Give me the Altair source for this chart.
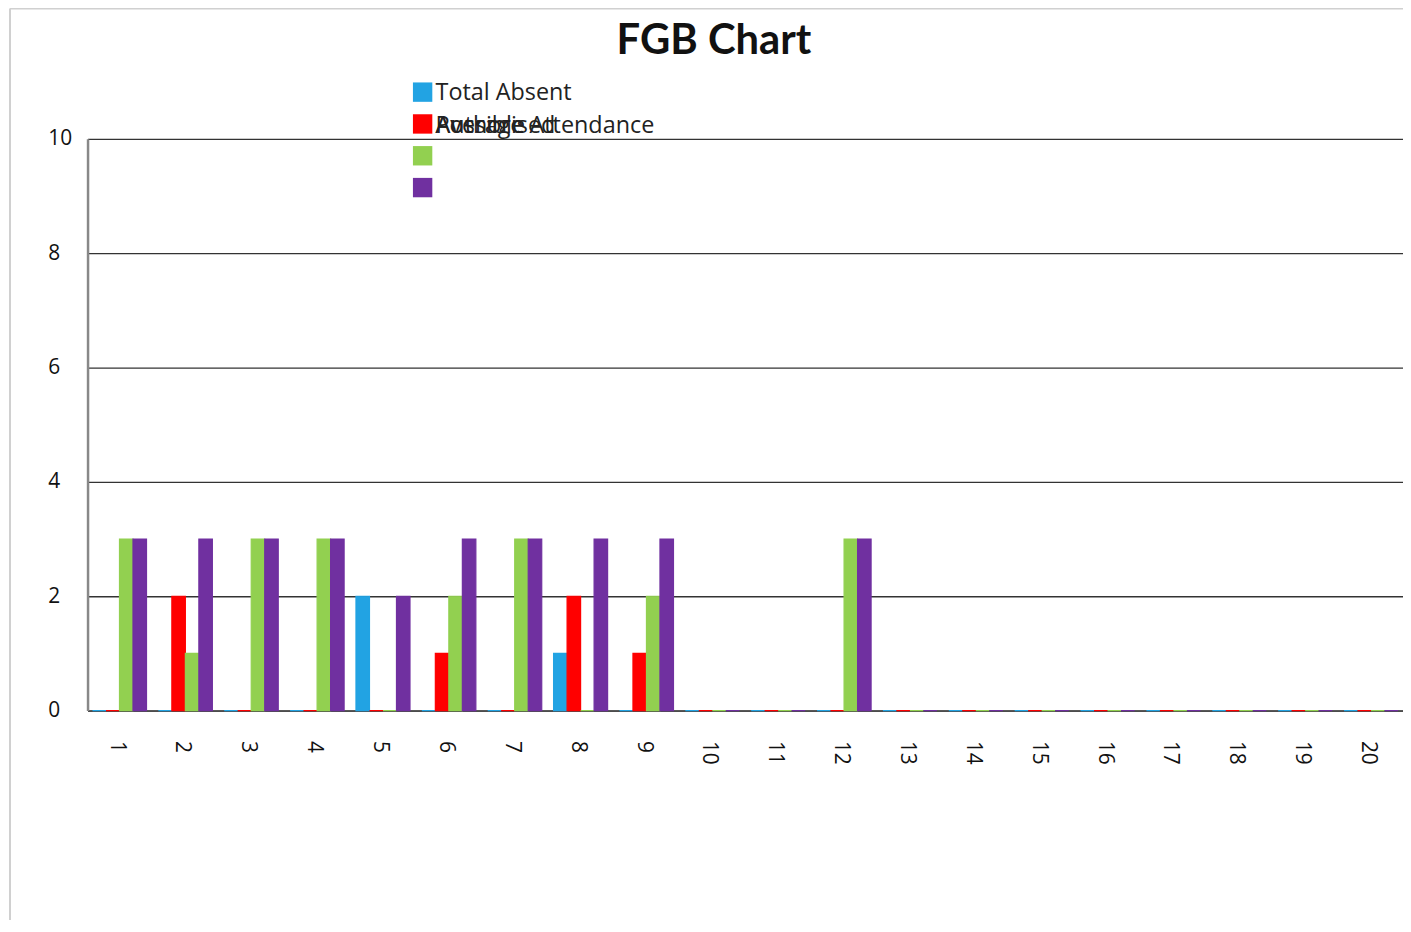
import altair as alt
import pandas as pd

categories = list(range(1, 21))
total_absent = [0, 0, 0, 0, 2, 0, 0, 1, 0, 0, 0, 0, 0, 0, 0, 0, 0, 0, 0, 0]
authorised = [0, 2, 0, 0, 0, 1, 0, 2, 1, 0, 0, 0, 0, 0, 0, 0, 0, 0, 0, 0]
possible = [3, 1, 3, 3, 0, 2, 3, 0, 2, 0, 0, 3, 0, 0, 0, 0, 0, 0, 0, 0]
average_att = [3, 3, 3, 3, 2, 3, 3, 3, 3, 0, 0, 3, 0, 0, 0, 0, 0, 0, 0, 0]
series_names = ["Total Absent", "Authorised", "Possible", "Average Attendance"]
series_colors = ["#22a3e3", "#ff0000", "#92d050", "#7030a0"]
y_ticks = [0, 2, 4, 6, 8, 10]
chart_title = "FGB Chart"

series_values = [total_absent, authorised, possible, average_att]
rows = []
for name, vals in zip(series_names, series_values):
    for c, v in zip(categories, vals):
        rows.append({"Day": c, "Series": name, "Value": v})
df = pd.DataFrame(rows)

FONT = "Open Sans"
W, H = 1323, 575

color_scale = alt.Scale(domain=series_names, range=series_colors)

bars = alt.Chart(df).mark_bar(strokeWidth=1.2).encode(
    x=alt.X("Day:O", sort=categories,
            scale=alt.Scale(paddingInner=0.18, paddingOuter=0.075),
            axis=alt.Axis(title=None, labelAngle=90, labelFontSize=21, labelFont=FONT,
                          labelColor="#111", labelPadding=30, labelOffset=-3, ticks=False,
                          domainColor="#444", domainWidth=1.5, grid=False)),
    xOffset=alt.XOffset("Series:N", sort=series_names,
                        scale=alt.Scale(paddingInner=0, paddingOuter=0)),
    y=alt.Y("Value:Q", scale=alt.Scale(domain=[0, 10]),
            axis=alt.Axis(title=None, values=y_ticks, labelFontSize=21, labelFont=FONT,
                          labelColor="#111", labelAlign="left", labelPadding=40,
                          ticks=False, domainColor="#888", domainWidth=2.5,
                          grid=True, gridColor="#333", gridWidth=1.3)),
    color=alt.Color("Series:N", scale=color_scale, legend=None),
    stroke=alt.Stroke("Series:N", scale=color_scale, legend=None),
)

one = pd.DataFrame({"a": [0]})

# custom legend (Excel-style, with overlapping labels on row two)
legend_layers = []
sq_y = [-47, -15, 17, 49]
for name, col, yy in zip(series_names, series_colors, sq_y):
    legend_layers.append(
        alt.Chart(one).mark_square(size=380, color=col, opacity=1).encode(
            x=alt.value(337), y=alt.value(yy)))
legend_layers.append(
    alt.Chart(one).mark_text(text=series_names[0], align="left", baseline="middle",
                             font=FONT, fontSize=23.5, color="#222").encode(
        x=alt.value(350), y=alt.value(-46)))
for name in series_names[1:]:
    legend_layers.append(
        alt.Chart(one).mark_text(text=name, align="left", baseline="middle",
                                 font=FONT, fontSize=23.5, color="#222").encode(
            x=alt.value(350), y=alt.value(-13)))

title_mark = alt.Chart(one).mark_text(
    text=chart_title, align="center", baseline="alphabetic", font="Lato",
    fontSize=42, fontWeight="bold", color="#111").encode(
    x=alt.value(630), y=alt.value(-85))

border_top = alt.Chart(one).mark_rule(color="#d0d0d0", strokeWidth=2).encode(
    x=alt.value(-78), x2=alt.value(W + 10), y=alt.value(-131))
border_left = alt.Chart(one).mark_rule(color="#d0d0d0", strokeWidth=2).encode(
    x=alt.value(-78), y=alt.value(-131), y2=alt.value(H + 230))

chart = alt.layer(border_top, border_left, bars, title_mark, *legend_layers).properties(
    width=W, height=H,
    autosize=alt.AutoSizeParams(type="none"),
    padding={"left": 80, "top": 129, "right": 0, "bottom": 208},
).configure_view(stroke=None)

chart.save("out.html", embed_options={"renderer": "svg", "actions": False})
